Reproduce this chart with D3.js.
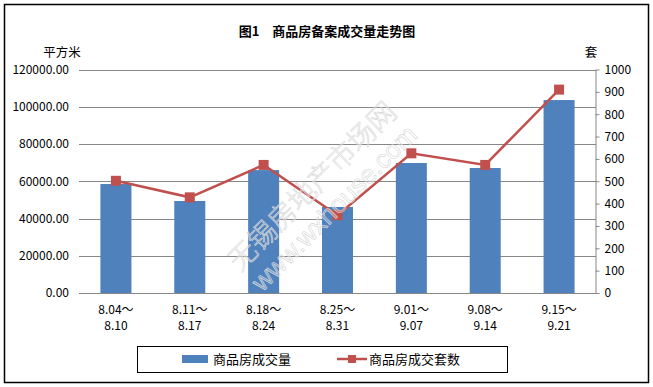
<!DOCTYPE html>
<html>
<head>
<meta charset="utf-8">
<script src="https://cdn.jsdelivr.net/npm/d3@7"></script>
<style>
  body { margin: 0; background: #fff; }
  svg text { font-family: "Noto Sans CJK SC", "DejaVu Sans", sans-serif; }
</style>
</head>
<body>
<svg id="chart" width="653" height="387"></svg>
<script>
// week ranges, first and second line of each label
const weekStart = ['8.04～', '8.11～', '8.18～', '8.25～', '9.01～', '9.08～', '9.15～'];
const weekEnd = ['8.10', '8.17', '8.24', '8.31', '9.07', '9.14', '9.21'];
// 商品房成交量 (平方米)
const area = [58500, 49400, 66000, 46200, 69800, 67100, 103600];
// 商品房成交套数 (套)
const units = [502, 428, 573, 348, 625, 573, 910];
const leftTicks = [0, 20000, 40000, 60000, 80000, 100000, 120000];
const rightTicks = [0, 100, 200, 300, 400, 500, 600, 700, 800, 900, 1000];

const svg = d3.select('#chart');
const plot = { left: 79, right: 596, top: 69.5, bottom: 293 };

// outer frame
svg.append('rect')
  .attr('x', 4.5).attr('y', 4.5)
  .attr('width', 644).attr('height', 378)
  .attr('fill', '#fff').attr('stroke', '#000').attr('stroke-width', 1.5);

// title
svg.append('text')
  .attr('x', 327).attr('y', 36)
  .attr('text-anchor', 'middle')
  .style('font-size', '13px').style('font-weight', 'bold')
  .text('图1　商品房备案成交量走势图');

const x = d3.scaleBand()
  .domain(weekStart.map((d, i) => i))
  .range([plot.left, plot.right])
  .paddingInner(0.58)
  .paddingOuter(0.29);

const y = d3.scaleLinear().domain([0, 120000]).range([plot.bottom, plot.top]);
const y2 = d3.scaleLinear().domain([0, 1000]).range([plot.bottom, plot.top]);

// gridlines
svg.append('g')
  .selectAll('line')
  .data(leftTicks)
  .join('line')
  .attr('x1', plot.left).attr('x2', plot.right)
  .attr('y1', d => Math.round(y(d)) + 0.5)
  .attr('y2', d => Math.round(y(d)) + 0.5)
  .attr('stroke', '#878787');

// left axis labels
const leftAxis = svg.append('g')
  .attr('transform', `translate(${plot.left},0)`)
  .call(d3.axisLeft(y).tickValues(leftTicks).tickFormat(d3.format('.2f')).tickSize(0).tickPadding(10));
leftAxis.select('.domain').remove();
leftAxis.selectAll('text').style('font-size', '12px').style('font-family', '"Noto Sans CJK SC", sans-serif').attr('fill', '#000');

// right axis
const rightAxis = svg.append('g')
  .attr('transform', `translate(${plot.right - 0.5},0)`)
  .call(d3.axisRight(y2).tickValues(rightTicks).tickFormat(d3.format('d')).tickSize(4).tickSizeOuter(0).tickPadding(5));
rightAxis.select('.domain').attr('stroke', '#878787');
rightAxis.selectAll('line').attr('stroke', '#878787');
rightAxis.selectAll('text').style('font-size', '12px').style('font-family', '"Noto Sans CJK SC", sans-serif').attr('fill', '#000');

// axis unit labels
svg.append('text').attr('x', 62).attr('y', 57).attr('text-anchor', 'middle')
  .style('font-size', '12.5px').text('平方米');
svg.append('text').attr('x', 591).attr('y', 57).attr('text-anchor', 'middle')
  .style('font-size', '12.5px').text('套');

// bars
svg.append('g')
  .selectAll('rect')
  .data(area)
  .join('rect')
  .attr('x', (d, i) => x(i))
  .attr('y', d => y(d))
  .attr('width', x.bandwidth())
  .attr('height', d => plot.bottom - y(d))
  .attr('fill', '#4F81BD');

// category axis line
svg.append('line')
  .attr('x1', plot.left).attr('x2', plot.right)
  .attr('y1', plot.bottom + 0.5).attr('y2', plot.bottom + 0.5)
  .attr('stroke', '#878787');

// category labels
const cx = i => x(i) + x.bandwidth() / 2;
const catLabels = svg.append('g');
catLabels.selectAll('text.start')
  .data(weekStart)
  .join('text')
  .attr('class', 'start')
  .attr('x', (d, i) => cx(i)).attr('y', 314)
  .attr('text-anchor', 'middle')
  .style('font-size', '12px')
  .text(d => d);
catLabels.selectAll('text.end')
  .data(weekEnd)
  .join('text')
  .attr('class', 'end')
  .attr('x', (d, i) => cx(i)).attr('y', 330)
  .attr('text-anchor', 'middle')
  .style('font-size', '12px')
  .text(d => d);

// line series
const line = d3.line().x((d, i) => cx(i)).y(d => y2(d));
svg.append('path')
  .datum(units)
  .attr('d', line)
  .attr('fill', 'none')
  .attr('stroke', '#C0504D')
  .attr('stroke-width', 2.5);
svg.append('g')
  .selectAll('rect')
  .data(units)
  .join('rect')
  .attr('x', (d, i) => cx(i) - 5)
  .attr('y', d => y2(d) - 5)
  .attr('width', 10).attr('height', 10)
  .attr('fill', '#C0504D');

// watermark
const wm = svg.append('g')
  .attr('transform', 'translate(312,186) rotate(-45)')
  .attr('fill', 'rgba(255,255,255,0.3)')
  .attr('stroke', '#d6d6d6')
  .attr('stroke-width', 0.6)
  .attr('text-anchor', 'middle');
wm.append('text').attr('x', 0).attr('y', 10)
  .style('font-size', '28px').style('font-weight', '300').text('无锡房地产市场网');
wm.append('text').attr('x', 0).attr('y', 40)
  .style('font-size', '26px').style('font-family', '"Liberation Sans", sans-serif')
  .text('www.wxhouse.com');

// legend
const legend = svg.append('g');
legend.append('rect')
  .attr('x', 137.5).attr('y', 346.5)
  .attr('width', 370).attr('height', 26)
  .attr('fill', '#fff').attr('stroke', '#000').attr('stroke-width', 1);
legend.append('rect')
  .attr('x', 182).attr('y', 355)
  .attr('width', 26).attr('height', 8)
  .attr('fill', '#4F81BD');
legend.append('text')
  .attr('x', 213).attr('y', 363.5)
  .style('font-size', '13px')
  .text('商品房成交量');
legend.append('line')
  .attr('x1', 337).attr('x2', 367)
  .attr('y1', 359).attr('y2', 359)
  .attr('stroke', '#C0504D').attr('stroke-width', 2.5);
legend.append('rect')
  .attr('x', 348).attr('y', 355)
  .attr('width', 8).attr('height', 8)
  .attr('fill', '#C0504D');
legend.append('text')
  .attr('x', 369).attr('y', 363.5)
  .style('font-size', '13px')
  .text('商品房成交套数');
</script>
</body>
</html>
